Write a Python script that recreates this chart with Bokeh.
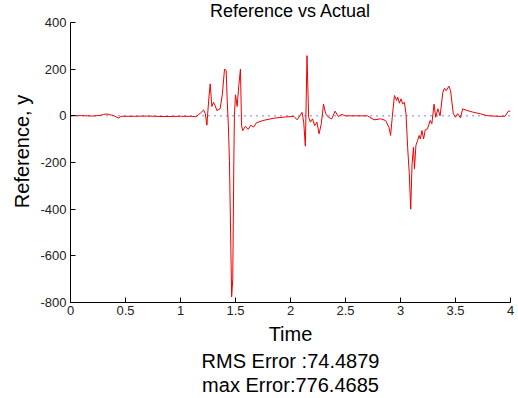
from bokeh.plotting import figure
from bokeh.models import Range1d, FixedTicker, Title, Label, PrintfTickFormatter
from bokeh.embed import file_html
from bokeh.resources import INLINE

# ---- data ----
time = [0.0, 0.1, 0.2, 0.27, 0.30, 0.33, 0.36, 0.39, 0.42, 0.435, 0.46, 0.55, 0.7, 0.85,
        1.0, 1.1, 1.14, 1.182, 1.21, 1.225, 1.24, 1.255, 1.27, 1.285, 1.30, 1.315, 1.33,
        1.36, 1.38, 1.40, 1.415, 1.425, 1.435, 1.445, 1.465, 1.475, 1.485, 1.49, 1.50,
        1.515, 1.53, 1.545, 1.555, 1.565, 1.59, 1.615, 1.64, 1.665, 1.69, 1.75, 1.85,
        1.95, 2.03, 2.06, 2.085, 2.105, 2.12, 2.135, 2.15, 2.165, 2.18, 2.2, 2.22, 2.24,
        2.26, 2.28, 2.30, 2.32, 2.345, 2.375, 2.405, 2.435, 2.465, 2.5, 2.7, 2.76, 2.82,
        2.865, 2.895, 2.91, 2.925, 2.945, 2.965, 2.975, 2.99, 3.005, 3.02, 3.035, 3.05,
        3.065, 3.08, 3.093, 3.105, 3.118, 3.127, 3.14, 3.155, 3.17, 3.18, 3.195, 3.21,
        3.225, 3.245, 3.27, 3.285, 3.305, 3.32, 3.34, 3.36, 3.385, 3.40, 3.415, 3.44,
        3.455, 3.48, 3.50, 3.52, 3.545, 3.565, 3.605, 3.665, 3.725, 3.785, 3.875, 3.95,
        3.98, 4.0]
actual = [0, 1, -1, 2, 6, 8, 4, 2, -6, -10, -2, -2, -1, -3,
          -2, -2, -4, 12, 25, 10, -40, 60, 137, 40, 58, 44, 23,
          30, 90, 200, 195, 60, -40, -190, -776, -700, -190, 0, 90,
          40, 130, 200, -40, -63, -45, -58, -40, -48, -30, -20, -10,
          -5, -2, -17, 0, 15, -27, -130, 258, -6, -27, -13, -42, -27,
          -77, -34, 50, 9, -6, -13, 20, -3, 6, 0, 0, -17, -13,
          -20, -49, -84, -6, 87, 66, 80, 54, 73, 51, 58, 9,
          -135, -249, -400, -206, -135, -227, -127, -106, -84, -99, -63, -99,
          -60, -56, -20, -34, 50, -6, 30, 0, 101, 118, 108, 127,
          108, 9, -6, 9, -9, 30, 23, 15, 9, 1, -2, -2,
          20, 20]
ref_time = [0.0, 4.0]
reference = [0, 0]

x_ticks = [0, 0.5, 1, 1.5, 2, 2.5, 3, 3.5, 4]
y_ticks = [-800, -600, -400, -200, 0, 200, 400]

title_text = "Reference vs Actual"
x_label = "Time"
y_label = "Reference, y"
rms_text = "RMS Error :74.4879"
max_text = "max Error:776.4685"

FONT = "Liberation Sans"

# axes box spans -800..400 over 280 px; the extra 22 px above holds the title
Y_MIN, Y_MAX = -800, 400
y_top = Y_MAX + 22 * (Y_MAX - Y_MIN) / 280

p = figure(width=518, height=398, output_backend="svg", toolbar_location=None,
           x_range=Range1d(0, 4), y_range=Range1d(Y_MIN, y_top),
           min_border_left=70, min_border_right=8, min_border_top=0, min_border_bottom=96)
p.outline_line_color = None
p.grid.visible = False
p.background_fill_color = "white"
p.border_fill_color = "white"

p.line(ref_time, reference, line_color="#0000ff", line_width=1, line_dash="1 5")
p.line(time, actual, line_color="#ee0000", line_width=1)

for ax in (p.xaxis[0], p.yaxis[0]):
    ax.axis_line_color = "black"
    ax.major_tick_line_color = "black"
    ax.major_tick_in = 5
    ax.major_tick_out = 0
    ax.minor_tick_line_color = None
    ax.major_label_text_font = FONT
    ax.major_label_text_font_size = "13px"
    ax.major_label_text_color = "#222222"
    ax.axis_label_text_font = FONT
    ax.axis_label_text_font_size = "20px"
    ax.axis_label_text_font_style = "normal"
    ax.axis_label_text_color = "black"

p.xaxis[0].ticker = FixedTicker(ticks=x_ticks)
p.yaxis[0].ticker = FixedTicker(ticks=y_ticks)
p.yaxis[0].bounds = (Y_MIN, Y_MAX)
p.yaxis[0].formatter = PrintfTickFormatter(format="%d")
p.xaxis[0].axis_label = x_label
p.yaxis[0].axis_label = y_label
p.xaxis[0].major_label_standoff = 3
p.yaxis[0].major_label_standoff = 4
p.xaxis[0].axis_label_standoff = 5
p.yaxis[0].axis_label_standoff = 4

for txt in (rms_text, max_text):
    p.add_layout(Title(text=txt, align="center", text_font=FONT, text_font_size="20px",
                       text_font_style="normal", text_color="black", standoff=0), "below")

p.add_layout(Label(x=2, y=448, text=title_text, text_align="center",
                   text_baseline="alphabetic", text_font=FONT, text_font_size="18px",
                   text_color="black"))

open("out.html", "w").write(file_html(p, INLINE))
